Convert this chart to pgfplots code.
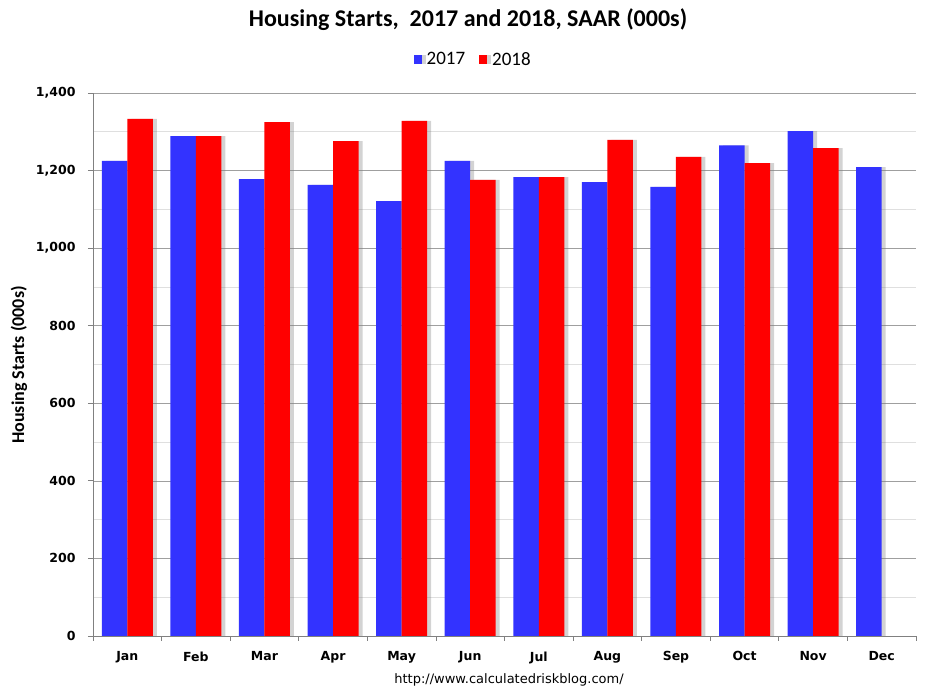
\documentclass[border=0pt]{standalone}
\usepackage{fontspec}
\setmainfont{Carlito}
\newfontfamily\dvs{DejaVu Sans}
\usepackage{pgfplots}
\pgfplotsset{compat=1.18}
\usetikzlibrary{shadows}
\definecolor{cblue}{HTML}{3333FF}
\definecolor{cred}{HTML}{FF0000}
\begin{document}
\begin{tikzpicture}[x=1pt,y=1pt]
\path[use as bounding box] (0,0) rectangle (937,696);
\begin{axis}[at={(93pt,60pt)}, anchor=south west, scale only axis,
  width=823pt, height=543pt,
  ybar=0pt, bar width=25.5pt,
  xmin=-0.5, xmax=11.5, ymin=0, ymax=1400,
  axis lines*=left, axis line style={-, draw=gray, line width=0.8pt},
  tick align=outside, major tick length=5pt,
  tick style={draw=gray, line width=0.8pt},
  xtick={-0.5,0.5,...,11.5}, xticklabels={},
  extra x ticks={0,1,2,3,4,5,6,7,8,9,10,11},
  extra x tick labels={Jan,Feb,Mar,Apr,May,Jun,Jul,Aug,Sep,Oct,Nov,Dec},
  extra x tick style={tick style={draw=none}, xticklabel style={yshift=-7pt}},
  ytick={0,200,...,1400},
  minor y tick num=1, minor tick length=0pt,
  ymajorgrids, yminorgrids,
  major grid style={draw=gray!75, line width=0.6pt},
  minor grid style={draw=gray!25, line width=0.6pt},
  /pgf/number format/1000 sep={,},
  /pgf/number format/assume math mode=true,
  ticklabel style={font=\dvs\bfseries\fontsize{12.5}{12.5}\selectfont},
  yticklabel style={xshift=-9pt},
  legend style={at={(0.462,1.062)}, anchor=center, draw=none, fill=none,
    legend columns=2, font=\fontsize{19}{19}\selectfont,
    /tikz/every even column/.append style={column sep=12pt}},
  legend image code/.code={\fill[#1] (0pt,-4.5pt) rectangle (8pt,4.5pt); \path (11pt,0pt);},
  clip=false,
]
\addplot[fill=cblue, draw=none, drop shadow={shadow xshift=4pt, shadow yshift=0pt, fill=gray, opacity=0.35}] coordinates {
(0,1225) (1,1289) (2,1178) (3,1163) (4,1121) (5,1225)
(6,1183) (7,1170) (8,1158) (9,1265) (10,1302) (11,1209)};
\addplot[fill=cred, draw=none, drop shadow={shadow xshift=4pt, shadow yshift=0pt, fill=gray, opacity=0.35}] coordinates {
(0,1333) (1,1289) (2,1325) (3,1276) (4,1328) (5,1176)
(6,1183) (7,1279) (8,1235) (9,1219) (10,1258)};
\legend{2017,2018}
\end{axis}
\node at (468,676) {\bfseries\fontsize{24}{24}\selectfont Housing Starts,\ \ 2017 and 2018, SAAR (000s)};
\node[rotate=90] at (19,331) {\bfseries\fontsize{18}{18}\selectfont Housing Starts (000s)};
\node at (509,16) {\dvs\fontsize{13}{13}\selectfont http://www.calculatedriskblog.com/};
\end{tikzpicture}
\end{document}
